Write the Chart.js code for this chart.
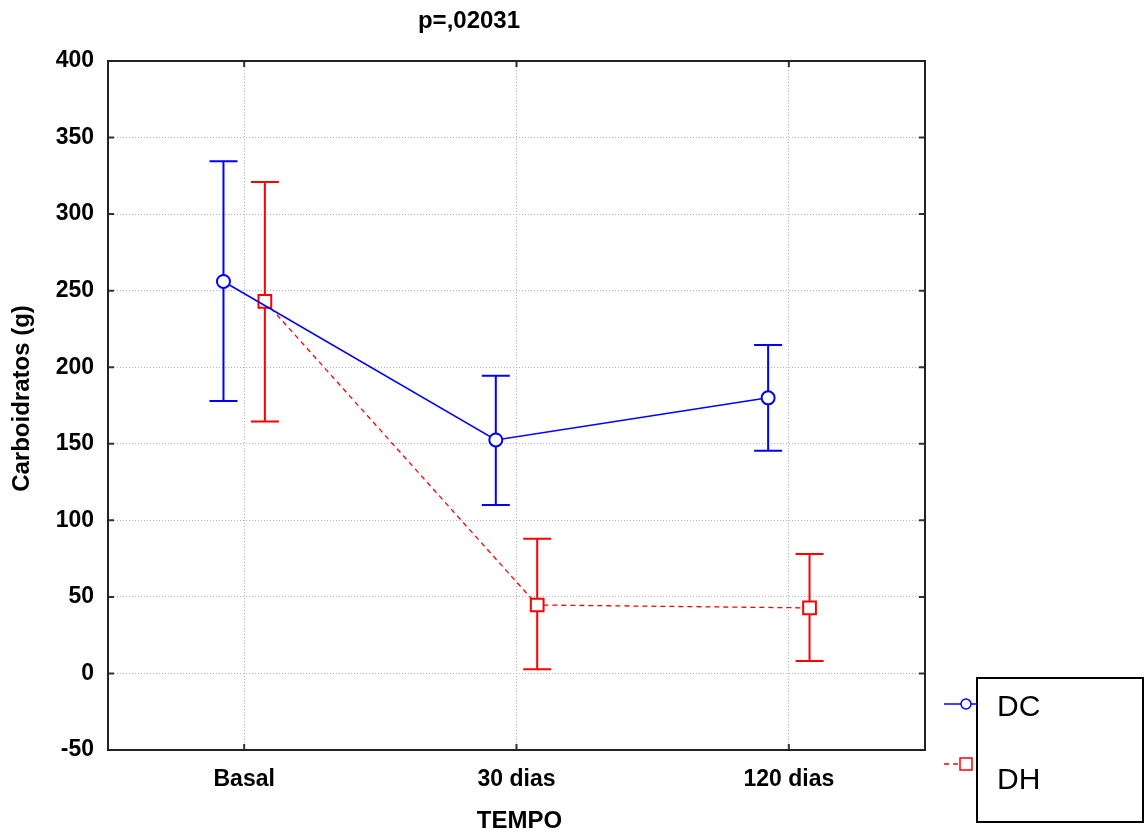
<!DOCTYPE html>
<html>
<head>
<meta charset="utf-8">
<script src="https://cdn.jsdelivr.net/npm/chart.js@4.4.1/dist/chart.umd.min.js"></script>
<style>
  html, body { margin: 0; padding: 0; background: #ffffff; }
  #wrap { width: 1147px; height: 835px; }
</style>
</head>
<body>
<div id="wrap"><canvas id="c" width="1147" height="835"></canvas></div>
<script>
// ---- data ----
const categories = ['Basal', '30 dias', '120 dias'];
const seriesNames = ['DC', 'DH'];
const dcMean  = [256, 152.5, 180];
const dcUpper = [334.5, 194.5, 214.5];
const dcLower = [178, 110, 145.5];
const dhMean  = [243, 44.7, 42.8];
const dhUpper = [321, 88, 78];
const dhLower = [164.5, 2.7, 8.2];
const titleText = 'p=,02031';
const yTitle = 'Carboidratos (g)';
const xTitle = 'TEMPO';

const OFFSET = 0.076; // horizontal dodge of the two groups (category units)
const FONT = '"Liberation Sans", Arial, sans-serif';

function pts(means, off) {
  return means.map((v, i) => ({ x: i + off, y: v }));
}

const errorBars = {
  id: 'errorBars',
  beforeDatasetsDraw(chart) {
    const ctx = chart.ctx, xs = chart.scales.x, ys = chart.scales.y;
    const sets = [
      { lo: dcLower, hi: dcUpper, off: -OFFSET, color: '#0000ff' },
      { lo: dhLower, hi: dhUpper, off: OFFSET, color: '#ff0000' }
    ];
    ctx.save();
    ctx.lineWidth = 2;
    sets.forEach(s => {
      ctx.strokeStyle = s.color;
      s.lo.forEach((lo, i) => {
        const x = xs.getPixelForValue(i + s.off);
        const yl = ys.getPixelForValue(lo), yh = ys.getPixelForValue(s.hi[i]);
        ctx.beginPath();
        ctx.moveTo(x, yl); ctx.lineTo(x, yh);
        ctx.moveTo(x - 14, yl); ctx.lineTo(x + 14, yl);
        ctx.moveTo(x - 14, yh); ctx.lineTo(x + 14, yh);
        ctx.stroke();
      });
    });
    ctx.restore();
  }
};

const frame = {
  id: 'frame',
  afterDraw(chart) {
    const ctx = chart.ctx, a = chart.chartArea, xs = chart.scales.x, ys = chart.scales.y;
    ctx.save();
    // inner tick marks
    ctx.strokeStyle = '#333';
    ctx.lineWidth = 2;
    ctx.beginPath();
    xs.ticks.forEach(t => {
      const x = xs.getPixelForValue(t.value);
      ctx.moveTo(x, a.top); ctx.lineTo(x, a.top + 6);
      ctx.moveTo(x, a.bottom); ctx.lineTo(x, a.bottom - 6);
    });
    ys.ticks.forEach(t => {
      const y = ys.getPixelForValue(t.value);
      ctx.moveTo(a.left, y); ctx.lineTo(a.left + 6, y);
      ctx.moveTo(a.right, y); ctx.lineTo(a.right - 6, y);
    });
    ctx.stroke();
    // frame
    ctx.strokeStyle = '#222';
    ctx.lineWidth = 2;
    ctx.strokeRect(a.left, a.top, a.right - a.left, a.bottom - a.top);

    // title
    ctx.fillStyle = '#000';
    ctx.font = 'bold 24px ' + FONT;
    ctx.textAlign = 'center';
    ctx.textBaseline = 'middle';
    ctx.fillText(titleText, 469, 21);
    // x title
    ctx.fillText(xTitle, (a.left + a.right) / 2 + 3, 821);
    // y title
    ctx.save();
    ctx.translate(22, (a.top + a.bottom) / 2 - 7);
    ctx.rotate(-Math.PI / 2);
    ctx.fillText(yTitle, 0, 0);
    ctx.restore();

    // legend
    ctx.strokeStyle = '#000';
    ctx.lineWidth = 2;
    ctx.strokeRect(977, 678, 166, 144);
    // DC sample
    ctx.strokeStyle = '#0000ff';
    ctx.lineWidth = 1.5;
    ctx.beginPath(); ctx.moveTo(944, 704); ctx.lineTo(977, 704); ctx.stroke();
    ctx.fillStyle = '#fff';
    ctx.beginPath(); ctx.arc(966, 704, 5, 0, Math.PI * 2); ctx.fill(); ctx.stroke();
    // DH sample
    ctx.strokeStyle = '#ff0000';
    ctx.setLineDash([5, 4]);
    ctx.beginPath(); ctx.moveTo(944, 764); ctx.lineTo(960, 764); ctx.stroke();
    ctx.setLineDash([]);
    ctx.fillStyle = '#fff';
    ctx.fillRect(960, 758, 12, 12);
    ctx.strokeRect(960, 758, 12, 12);
    // legend text
    ctx.fillStyle = '#000';
    ctx.font = '30px ' + FONT;
    ctx.textAlign = 'left';
    ctx.textBaseline = 'middle';
    ctx.fillText(seriesNames[0], 997, 708);
    ctx.fillText(seriesNames[1], 997, 781);
    ctx.restore();
  }
};

new Chart(document.getElementById('c'), {
  type: 'line',
  data: {
    datasets: [
      {
        label: seriesNames[0],
        data: pts(dcMean, -OFFSET),
        borderColor: '#0000ff',
        borderWidth: 1.5,
        pointStyle: 'circle',
        pointRadius: 6.5,
        pointBorderWidth: 2,
        pointBackgroundColor: '#ffffff',
        pointBorderColor: '#0000ff',
        tension: 0
      },
      {
        label: seriesNames[1],
        data: pts(dhMean, OFFSET),
        borderColor: '#ff0000',
        borderWidth: 1.3,
        borderDash: [5, 4],
        pointStyle: 'rect',
        pointRadius: 9,
        pointBorderWidth: 2,
        pointBackgroundColor: '#ffffff',
        pointBorderColor: '#ff0000',
        tension: 0
      }
    ]
  },
  options: {
    responsive: false,
    animation: false,
    layout: { padding: { left: 0, right: 222, top: 61, bottom: 0 } },
    plugins: { legend: { display: false }, title: { display: false }, tooltip: { enabled: false } },
    scales: {
      x: {
        type: 'linear',
        min: -0.5,
        max: 2.5,
        afterBuildTicks(s) { s.ticks = categories.map((c, i) => ({ value: i })); },
        afterFit(s) { s.height = 85; },
        grid: { color: '#b5b5b5', lineWidth: 1, drawTicks: false },
        border: { display: false, dash: [1, 2] },
        ticks: {
          padding: 16,
          color: '#000',
          font: { family: FONT, size: 23, weight: 'bold' },
          callback: (v) => categories[Math.round(v)] || ''
        }
      },
      y: {
        min: -50,
        max: 400,
        afterFit(s) { s.width = 108; },
        grid: { color: '#b5b5b5', lineWidth: 1, drawTicks: false },
        border: { display: false, dash: [1, 2] },
        ticks: {
          stepSize: 50,
          padding: 14,
          color: '#000',
          font: { family: FONT, size: 23, weight: 'bold' }
        }
      }
    }
  },
  plugins: [errorBars, frame]
});
</script>
</body>
</html>
